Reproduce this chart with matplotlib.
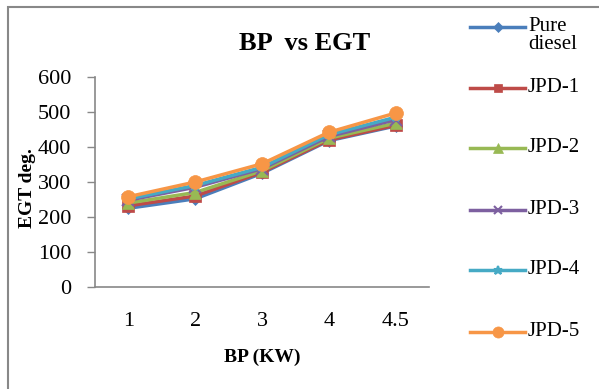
import matplotlib.pyplot as plt
from matplotlib.patches import Rectangle

plt.rcParams['font.family'] = ['Liberation Serif', 'DejaVu Serif']

bp_labels = ['1', '2', '3', '4', '4.5']
series_names = ['Pure\ndiesel', 'JPD-1', 'JPD-2', 'JPD-3', 'JPD-4', 'JPD-5']
pure_diesel = [225, 252, 325, 418, 460]
jpd_1 = [232, 260, 328, 420, 462]
jpd_2 = [240, 270, 332, 425, 468]
jpd_3 = [248, 285, 338, 430, 478]
jpd_4 = [252, 290, 342, 435, 485]
jpd_5 = [258, 300, 352, 442, 497]

all_series = [pure_diesel, jpd_1, jpd_2, jpd_3, jpd_4, jpd_5]
colors = ['#4A7EBB', '#BE4B48', '#98B954', '#7D60A0', '#46AAC5', '#F79646']
markers = ['D', 's', '^', 'x', '*', 'o']
msizes = [6, 8, 9, 8, 8, 10]

fig = plt.figure(figsize=(5.99, 3.89), dpi=100)
ax = fig.add_axes([95 / 599, 1 - 287 / 389, (429 - 95) / 599, (287 - 77) / 389])

x = list(range(len(bp_labels)))
handles = []
for vals, name, c, m, ms in zip(all_series, series_names, colors, markers, msizes):
    h, = ax.plot(x, vals, color=c, marker=m, markersize=ms, linewidth=2.5,
                 markeredgewidth=1.5 if m in ('x', '*') else 0.5, markeredgecolor=c,
                 label=name)
    handles.append(h)

ax.set_xlim(-0.5, len(bp_labels) - 0.5)
ax.set_ylim(0, 600)
ax.set_yticks(range(0, 601, 100))
ax.set_xticks(x)
ax.set_xticklabels(bp_labels)
ax.tick_params(axis='x', length=0, pad=18, labelsize=16)
ax.tick_params(axis='y', length=6, width=1, color='#888888', direction='out', labelsize=16, pad=11)
for s in ['top', 'right']:
    ax.spines[s].set_visible(False)
for s in ['left', 'bottom']:
    ax.spines[s].set_color('#888888')
    ax.spines[s].set_linewidth(1.2)

ax.set_xlabel('BP (KW)', fontsize=14, fontweight='bold')
ax.xaxis.set_label_coords(0.5, -(349 - 287) / 210)
ax.set_ylabel('EGT deg.', fontsize=14, fontweight='bold')
ax.yaxis.set_label_coords(-(95 - 36) / 334, 0.47)
fig.text(305 / 599, 1 - 43 / 389, 'BP  vs EGT', fontsize=19, fontweight='bold',
         ha='center', va='center')

leg_y = [27, 88, 148, 210, 270, 332]
for h, name, yy, ms in zip(handles, series_names, leg_y, msizes):
    fy = 1 - yy / 389
    fig.lines.append(plt.Line2D([470 / 599, 525 / 599], [fy, fy], color=h.get_color(),
                                linewidth=2.5, transform=fig.transFigure))
    fig.lines.append(plt.Line2D([497.5 / 599], [fy], color=h.get_color(), marker=h.get_marker(),
                                markersize=ms * 0.8, markeredgewidth=h.get_markeredgewidth(),
                                transform=fig.transFigure))
    fig.text(528 / 599, fy + (10 / 389 if '\n' in name else 0), name, fontsize=15,
             ha='left', va='top' if '\n' in name else 'center', linespacing=0.95)

fig.patches.append(Rectangle((8 / 599, -0.1), 1.1, 1.1 - 7 / 389, transform=fig.transFigure,
                             fill=False, edgecolor='#888888', linewidth=1.5))

fig.savefig('out.png', dpi=100)
